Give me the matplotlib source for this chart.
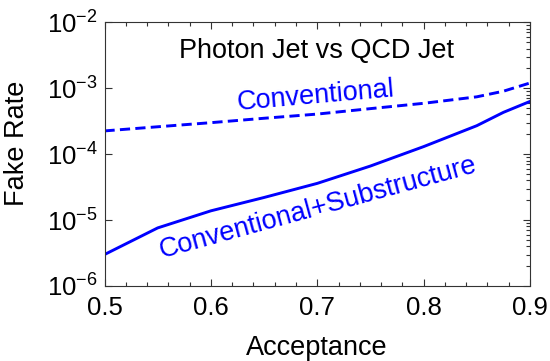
import numpy as np
import matplotlib
matplotlib.use('Agg')
import matplotlib.pyplot as plt
from matplotlib.ticker import LogLocator, MultipleLocator, NullFormatter

plt.rcParams['font.family'] = ['Liberation Sans', 'DejaVu Sans']
plt.rcParams['mathtext.fontset'] = 'custom'
plt.rcParams['mathtext.rm'] = 'Liberation Sans'
plt.rcParams['mathtext.it'] = 'Liberation Sans:italic'

# acceptance points and fake rates
acceptance = [0.5, 0.55, 0.6, 0.65, 0.7, 0.75, 0.8, 0.85, 0.875, 0.9]
conventional = [2.25e-4, 2.6e-4, 3.0e-4, 3.5e-4, 4.05e-4, 4.9e-4, 5.9e-4, 7.4e-4, 9.0e-4, 1.2e-3]
substructure = [3.0e-6, 7.6e-6, 1.38e-5, 2.2e-5, 3.6e-5, 6.6e-5, 1.3e-4, 2.7e-4, 4.3e-4, 6.3e-4]

fig = plt.figure(figsize=(5.5, 3.61), dpi=100)
ax = fig.add_axes([0.19, 0.2078, 0.7736, 0.7305])

blue = '#0000ff'
ax.plot(acceptance, conventional, color=blue, lw=2.1, linestyle=(0, (3.5, 1.8)))
ax.plot(acceptance, substructure, color=blue, lw=2.1)

ax.set_yscale('log')
ax.set_xlim(0.5, 0.9)
ax.set_ylim(1e-6, 1e-2)
ax.xaxis.set_major_locator(MultipleLocator(0.1))
ax.xaxis.set_minor_locator(MultipleLocator(0.02))
ax.yaxis.set_major_locator(LogLocator(base=10, numticks=10))
ax.yaxis.set_minor_locator(LogLocator(base=10, subs=np.arange(2, 10), numticks=20))
ax.yaxis.set_minor_formatter(NullFormatter())

ax.tick_params(which='both', direction='in', top=True, right=True, width=0.8, color='#333333')
ax.tick_params(which='major', length=5, labelsize=18.5)
ax.tick_params(which='minor', length=3, left=False)
ax.tick_params(axis='x', pad=7)
ax.tick_params(axis='y', pad=5)
for s in ax.spines.values():
    s.set_linewidth(0.8)
    s.set_color('#333333')

ax.set_xlabel('Acceptance', fontsize=19.5, labelpad=11)
ax.set_ylabel('Fake Rate', fontsize=19.5)
ax.yaxis.set_label_coords(-0.175, 0.54)

ax.text(0.498, 0.865, 'Photon Jet vs QCD Jet', transform=ax.transAxes,
        fontsize=19.5, ha='center', va='baseline')
ax.text(0.497, 0.692, 'Conventional', transform=ax.transAxes, color=blue,
        fontsize=19.5, ha='center', va='baseline', rotation=5, rotation_mode='anchor')
ax.text(0.506, 0.269, 'Conventional+Substructure', transform=ax.transAxes, color=blue,
        fontsize=19.5, ha='center', va='baseline', rotation=15.3, rotation_mode='anchor')

fig.savefig('out.png', dpi=100)
